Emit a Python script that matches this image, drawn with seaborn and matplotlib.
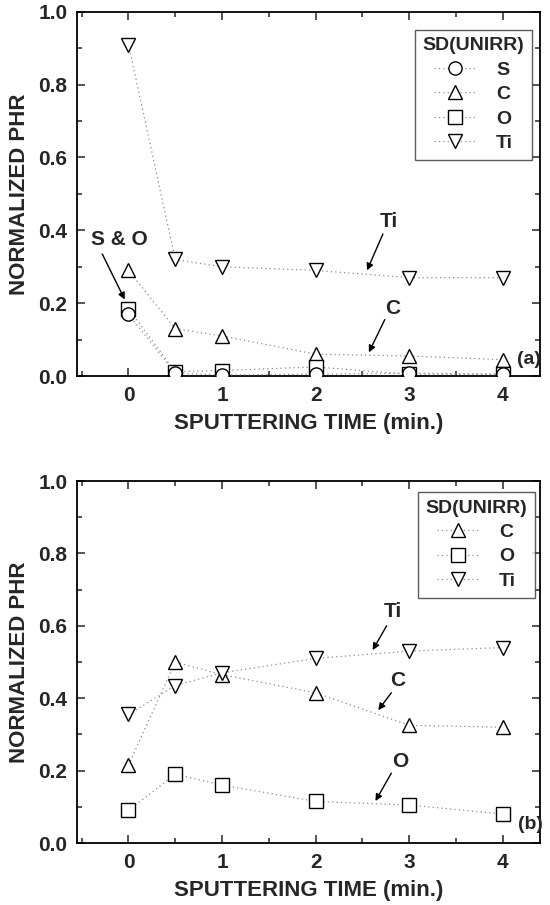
import numpy as np
import pandas as pd
import matplotlib
matplotlib.use("Agg")
import matplotlib.pyplot as plt
from matplotlib.ticker import MultipleLocator
from matplotlib.lines import Line2D
import seaborn as sns

# ---------------- data ----------------
time = [0, 0.5, 1, 2, 3, 4]

# panel (a)
a_S = [0.17, 0.008, 0.003, 0.005, 0.008, 0.005]
a_C = [0.29, 0.13, 0.11, 0.06, 0.055, 0.045]
a_O = [0.185, 0.012, 0.015, 0.025, 0.005, 0.005]
a_Ti = [0.91, 0.32, 0.30, 0.29, 0.27, 0.27]

# panel (b)
b_C = [0.215, 0.50, 0.465, 0.415, 0.325, 0.32]
b_O = [0.09, 0.19, 0.16, 0.115, 0.105, 0.08]
b_Ti = [0.355, 0.435, 0.47, 0.51, 0.53, 0.54]

xticks = [0, 1, 2, 3, 4]
yticks = [0.0, 0.2, 0.4, 0.6, 0.8, 1.0]
legend_title = "SD(UNIRR)"
xlabel = "SPUTTERING TIME (min.)"
ylabel = "NORMALIZED PHR"

# ---------------- style ----------------
sns.set_style("ticks")
plt.rcParams["font.family"] = ["Liberation Sans", "DejaVu Sans"]
plt.rcParams["font.weight"] = "bold"
plt.rcParams["axes.labelweight"] = "bold"

markers = {"S": "o", "C": "^", "O": "s", "Ti": "v"}
line_style = dict(color="#8c8c8c", linewidth=0.9, linestyle=(0, (1, 2.5)))
mk_style = dict(markersize=9.5, markerfacecolor="white",
                markeredgecolor="black", markeredgewidth=1.0)

fig = plt.figure(figsize=(5.5, 9.05), dpi=100)
ax1 = fig.add_axes([0.14, 0.5845, 0.842, 0.4025])
ax2 = fig.add_axes([0.14, 0.0685, 0.842, 0.40])


def draw(ax, series, order):
    for name in order:
        df = pd.DataFrame({"t": time, "v": series[name]})
        sns.lineplot(data=df, x="t", y="v", ax=ax, marker=markers[name],
                     **line_style, **mk_style, zorder=3, legend=False)


def style_axes(ax):
    ax.set_xlim(-0.55, 4.4)
    ax.set_ylim(0, 1.0)
    ax.set_xticks(xticks)
    ax.set_yticks(yticks)
    ax.set_xticklabels([str(t) for t in xticks])
    ax.set_yticklabels([f"{t:.1f}" for t in yticks])
    ax.xaxis.set_minor_locator(MultipleLocator(0.5))
    ax.yaxis.set_minor_locator(MultipleLocator(0.1))
    ax.tick_params(which="both", direction="in", top=True, right=True,
                   labelsize=15, width=1.1)
    ax.tick_params(which="major", length=6, pad=7)
    ax.tick_params(which="minor", length=3.5)
    for lab in ax.get_xticklabels() + ax.get_yticklabels():
        lab.set_fontweight("bold")
    for sp in ax.spines.values():
        sp.set_linewidth(1.3)
        sp.set_color("black")
    ax.set_xlabel(xlabel, fontsize=16, fontweight="bold", labelpad=6)
    ax.set_ylabel(ylabel, fontsize=16, fontweight="bold", labelpad=6)


def legend(ax, names, bbox):
    handles = [Line2D([0], [0], marker=markers[n], **line_style, **mk_style)
               for n in names]
    lg = ax.legend(handles, names, title=legend_title, loc="upper right",
                   bbox_to_anchor=bbox, borderaxespad=0.0,
                   frameon=True, fancybox=False,
                   edgecolor="#333333", fontsize=14, title_fontsize=14,
                   handlelength=2.2, handletextpad=1.0, labelspacing=0.35,
                   borderpad=0.4, markerfirst=True)
    lg.get_frame().set_linewidth(1.0)
    lg.get_title().set_fontweight("bold")
    for t in lg.get_texts():
        t.set_fontweight("bold")
    return lg


arrow = dict(arrowstyle="-|>", color="black", lw=1.0, mutation_scale=10,
             shrinkA=0, shrinkB=0)
tkw = dict(fontsize=15, fontweight="bold", ha="center", va="center")

# ---------------- panel (a) ----------------
draw(ax1, {"S": a_S, "C": a_C, "O": a_O, "Ti": a_Ti}, ["Ti", "C", "O", "S"])
style_axes(ax1)
legend(ax1, ["S", "C", "O", "Ti"], (0.983, 0.951))
ax1.text(2.78, 0.425, "Ti", **tkw)
ax1.annotate("", xy=(2.55, 0.29), xytext=(2.72, 0.39), arrowprops=arrow)
ax1.text(2.82, 0.185, "C", **tkw)
ax1.annotate("", xy=(2.57, 0.065), xytext=(2.74, 0.155), arrowprops=arrow)
ax1.text(-0.1, 0.375, "S & O", **tkw)
ax1.annotate("", xy=(-0.04, 0.21), xytext=(-0.28, 0.335), arrowprops=arrow)
ax1.text(4.28, 0.045, "(a)", fontsize=14, fontweight="bold",
         ha="center", va="center")

# ---------------- panel (b) ----------------
draw(ax2, {"C": b_C, "O": b_O, "Ti": b_Ti}, ["O", "C", "Ti"])
style_axes(ax2)
legend(ax2, ["C", "O", "Ti"], (0.989, 0.970))
ax2.text(2.83, 0.64, "Ti", **tkw)
ax2.annotate("", xy=(2.61, 0.533), xytext=(2.76, 0.60), arrowprops=arrow)
ax2.text(2.88, 0.45, "C", **tkw)
ax2.annotate("", xy=(2.67, 0.367), xytext=(2.81, 0.415), arrowprops=arrow)
ax2.text(2.9, 0.225, "O", **tkw)
ax2.annotate("", xy=(2.64, 0.116), xytext=(2.81, 0.193), arrowprops=arrow)
ax2.text(4.3, 0.05, "(b)", fontsize=14, fontweight="bold",
         ha="center", va="center")

fig.savefig("out.png", dpi=100)
